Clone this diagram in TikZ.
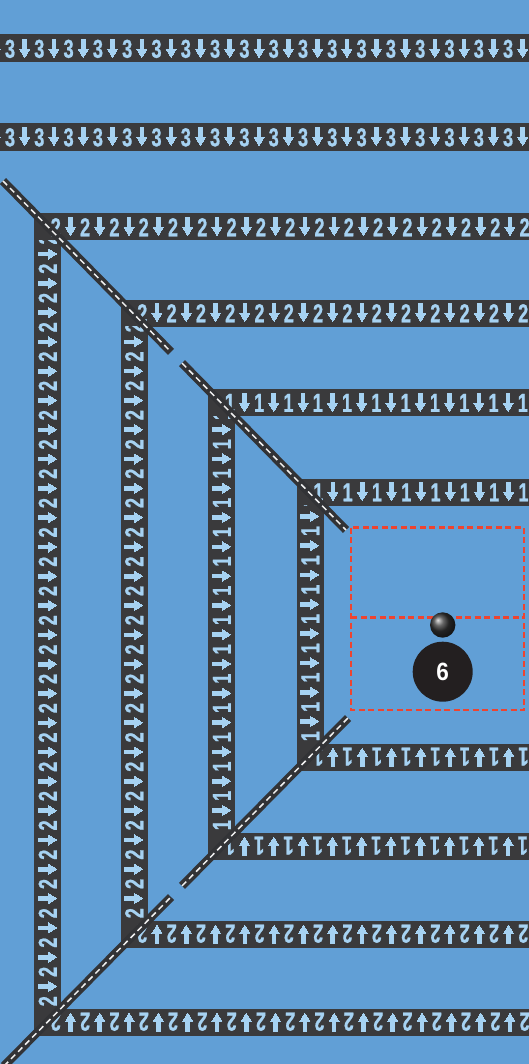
\documentclass[tikz,border=0pt]{standalone}
\usepackage{fontspec}
\usepackage{graphicx}
\setmainfont{Liberation Sans}
\newfontfamily\tapefont{Liberation Sans}[FakeBold=1]
\definecolor{bg}{HTML}{619FD6}
\definecolor{tape}{HTML}{3A3A3C}
\definecolor{tapetext}{HTML}{A6D2F2}
\definecolor{dashred}{HTML}{EE4430}
\definecolor{diag}{HTML}{323336}
\definecolor{numfill}{HTML}{231F20}
\newcommand\headrow[1]{\hbox to 11pt{\hss\vrule width #1 height 1pt depth 0pt\hss}}
\newcommand\arrglyph{\vbox{\offinterlineskip\hbox to 11pt{\hss\vrule width 4.6pt height 10pt depth 0pt\hss}\headrow{11pt}\headrow{9.8pt}\headrow{8.6pt}\headrow{7.3pt}\headrow{6.1pt}\headrow{4.9pt}\headrow{3.7pt}\headrow{2.4pt}\headrow{1.2pt}}}
\newcommand\tapeunit[1]{\makebox[14.65pt]{\scalebox{0.7}[1]{\tapefont\fontsize{26}{26}\selectfont\bfseries #1}}\makebox[14.65pt]{\arrglyph}}
\newcommand\tapestr[2]{\foreach\k in {1,...,#2}{\tapeunit{#1}}}
\begin{document}
\begin{tikzpicture}[x=1pt,y=-1pt,
  tapetxt/.style={text=tapetext, inner sep=0pt, outer sep=0pt, text height=18.6pt, text depth=0pt},
  diagouter/.style={draw=diag, line width=8.5pt},
  diaginner/.style={draw=white!88!gray, line width=1.5pt, dash pattern=on 6pt off 4pt},
  reddash/.style={draw=dashred, line width=2.5pt, dash pattern=on 6pt off 3.5pt}]
\useasboundingbox (0,0) rectangle (529,1064);
\fill[bg] (0,0) rectangle (529,1064);
\clip (0,0) rectangle (529,1064);
% straight bands
\foreach \i/\yc in {1/48.5, 2/137} {
  \fill[tape] (0,\yc-14) rectangle (529,\yc+14);
  \node[tapetxt, anchor=west] (band\i) at (-26.6,\yc) {\tapestr{3}{20}};
}
% U-shaped bands
\foreach \i/\xl/\yt/\yb/\d in {3/47.5/227/1022/2, 4/134/313/934/2, 5/221.5/402.5/846/1, 6/310/492/757/1} {
  \fill[tape] (\xl-13.5,\yt-13.5) rectangle (529,\yt+13.5);
  \fill[tape] (\xl-13.5,\yt-13.5) rectangle (\xl+13.5,\yb+13.5);
  \fill[tape] (\xl-13.5,\yb-13.5) rectangle (529,\yb+13.5);
  \begin{scope}
    \clip (\xl+1,\yt-13.5) rectangle (529,\yt+13.5);
    \node[tapetxt, anchor=west] (top\i) at (\xl+1,\yt) {\tapestr{\d}{18}};
  \end{scope}
  \begin{scope}
    \clip (\xl-13.5,\yt+13.5) rectangle (\xl+13.5,\yb-13.5);
    \node[tapetxt, rotate=90, anchor=west] (left\i) at (\xl,\yb-13.5) {\tapestr{\d}{30}};
  \end{scope}
  \begin{scope}
    \clip (\xl+1,\yb-13.5) rectangle (529,\yb+13.5);
    \node[tapetxt, rotate=180, anchor=east] (bot\i) at (\xl+1-14.65,\yb) {\tapestr{\d}{19}};
  \end{scope}
}
% diagonals
\coordinate (d1a) at (3,181);
\coordinate (d1b) at (171,351.9);
\coordinate (d1c) at (182,363.1);
\coordinate (d1d) at (346,530);
\coordinate (d2a) at (4,1066);
\coordinate (d2b) at (171,897.0);
\coordinate (d2c) at (182,885.9);
\coordinate (d2d) at (348,718);
\foreach \p/\q in {d1a/d1b, d1c/d1d, d2a/d2b, d2c/d2d} {
  \draw[diagouter] (\p) -- (\q);
  \draw[diaginner] (\p) -- (\q);
}
% dashed red area
\coordinate (r1) at (351,527.5);
\coordinate (r2) at (524,710);
\coordinate (rm1) at (351,617.7);
\coordinate (rm2) at (524,617.7);
\draw[reddash] (r1) rectangle (r2);
\draw[reddash] (rm1) -- (rm2);
\node[circle, shade, ball color=black!80, minimum size=25.4pt, inner sep=0pt] (ball) at (442.7,625) {};
\node[circle, fill=numfill, minimum size=60pt, inner sep=0pt, text=white] (n6) at (442.7,671.7) {\scalebox{0.9}[1]{\fontsize{25}{25}\selectfont\bfseries 6}};
\end{tikzpicture}
\end{document}
